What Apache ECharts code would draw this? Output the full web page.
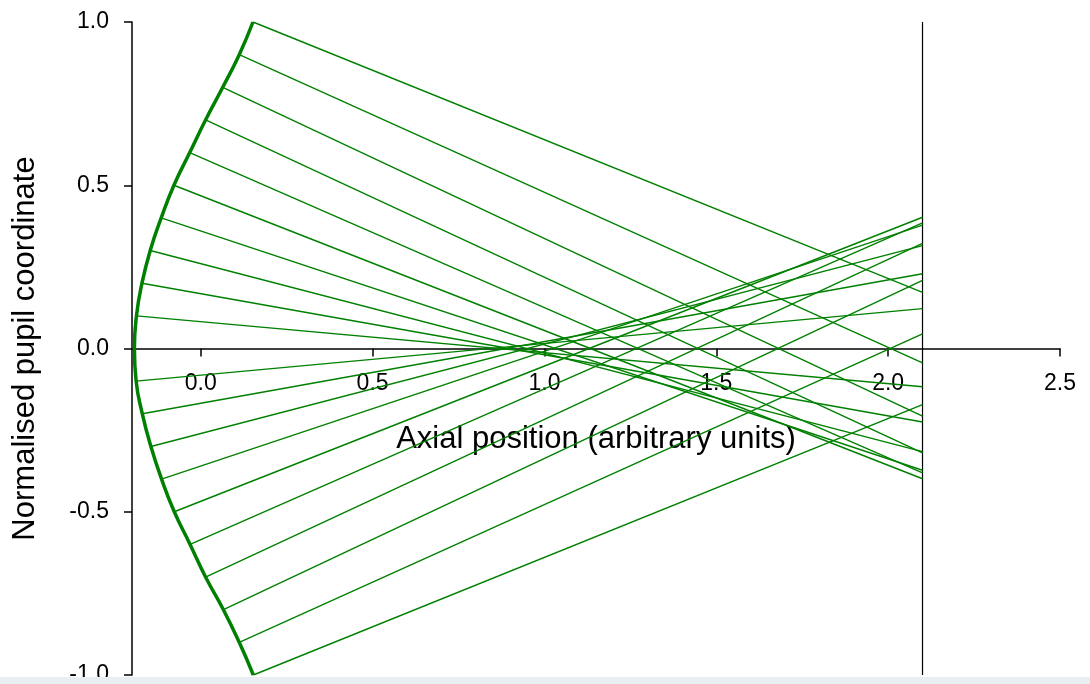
<!DOCTYPE html>
<html>
<head>
<meta charset="utf-8">
<script src="https://cdn.jsdelivr.net/npm/echarts@6/dist/echarts.min.js"></script>
<style>
  html, body { margin: 0; padding: 0; background: #fff; }
  #chart { width: 1090px; height: 684px; }
</style>
</head>
<body>
<div id="chart"></div>
<script>
// pupil heights where the rays leave the refracting surface
const pupilY = [-1.0, -0.9, -0.8, -0.7, -0.6, -0.5, -0.4, -0.3, -0.2, -0.1, 0.0,
    0.1, 0.2, 0.3, 0.4, 0.5, 0.6, 0.7, 0.8, 0.9, 1.0];
// axial position of the surface at those heights
const surfaceX = [0.153, 0.112, 0.066, 0.014, -0.031, -0.077, -0.114, -0.145, -0.170, -0.188, -0.193,
    -0.187, -0.171, -0.147, -0.115, -0.078, -0.032, 0.014, 0.064, 0.112, 0.152];
// height where each ray meets the image plane (no ray drawn on axis)
const imageY = [-0.172, 0.045, 0.209, 0.322, 0.385, 0.402, 0.378, 0.315, 0.229, 0.122, null,
    -0.117, -0.225, -0.316, -0.373, -0.399, -0.381, -0.320, -0.207, -0.044, 0.172];
const imagePlaneX = 2.1;
const xTicks = [0.0, 0.5, 1.0, 1.5, 2.0, 2.5];

var chartDom = document.getElementById('chart');
var myChart = echarts.init(chartDom);

const green = '#008000';
const font = 'Liberation Sans, Arial, sans-serif';
var series = [];

// rays
pupilY.forEach(function (y, i) {
    if (imageY[i] === null) return;
    series.push({
        type: 'line',
        data: [[surfaceX[i], y], [imagePlaneX, imageY[i]]],
        symbol: 'none',
        silent: true,
        lineStyle: { color: green, width: 1.4 },
        z: 3
    });
});

// surface
series.push({
    type: 'line',
    data: pupilY.map(function (y, i) { return [surfaceX[i], y]; }),
    symbol: 'none',
    smooth: 0.5,
    silent: true,
    lineStyle: { color: green, width: 3.5, join: 'round' },
    z: 4
});

// image plane
series.push({
    type: 'line',
    data: [[imagePlaneX, -1], [imagePlaneX, 1]],
    symbol: 'none',
    silent: true,
    lineStyle: { color: '#000', width: 1.2 },
    z: 2
});

// plot area: 22..675 px, so y = 0 sits half way up
const gridTop = 22, gridBottom = 9, chartH = 684;
const plotH = chartH - gridTop - gridBottom;

var option = {
    animation: false,
    backgroundColor: '#fff',
    grid: { left: 132, right: 30, top: gridTop, bottom: gridBottom, containLabel: false, outerBoundsMode: 'none' },
    xAxis: {
        type: 'value',
        min: -0.2,
        max: 2.5,
        offset: -plotH / 2,
        name: 'Axial position (arbitrary units)',
        nameLocation: 'middle',
        nameGap: 75,
        nameTextStyle: { fontFamily: font, fontSize: 31, color: '#000' },
        axisLine: { onZero: false, lineStyle: { color: '#000', width: 1.5 } },
        axisTick: { show: true, length: 8, customValues: xTicks, lineStyle: { color: '#000', width: 1.5 } },
        axisLabel: {
            margin: 24,
            fontFamily: font,
            fontSize: 23,
            color: '#000',
            customValues: xTicks,
            formatter: function (v) { return v.toFixed(1); }
        },
        splitLine: { show: false }
    },
    yAxis: {
        type: 'value',
        min: -1,
        max: 1,
        interval: 0.5,
        name: 'Normalised pupil coordinate',
        nameLocation: 'middle',
        nameGap: 91,
        nameTextStyle: { fontFamily: font, fontSize: 31, color: '#000' },
        axisLine: { show: true, onZero: false, lineStyle: { color: '#000', width: 1.5 } },
        axisTick: { show: true, length: 8, lineStyle: { color: '#000', width: 1.5 } },
        axisLabel: {
            margin: 23,
            fontFamily: font,
            fontSize: 23,
            color: '#000',
            formatter: function (v) { return v.toFixed(1); }
        },
        splitLine: { show: false }
    },
    graphic: [{
        type: 'rect',
        left: 0,
        top: 677,
        shape: { width: 1090, height: 7 },
        style: { fill: '#e9eef3' },
        z: 100
    }],
    series: series
};
myChart.setOption(option);

window.onresize = function () {
    myChart.resize();
};
</script>
</body>
</html>
